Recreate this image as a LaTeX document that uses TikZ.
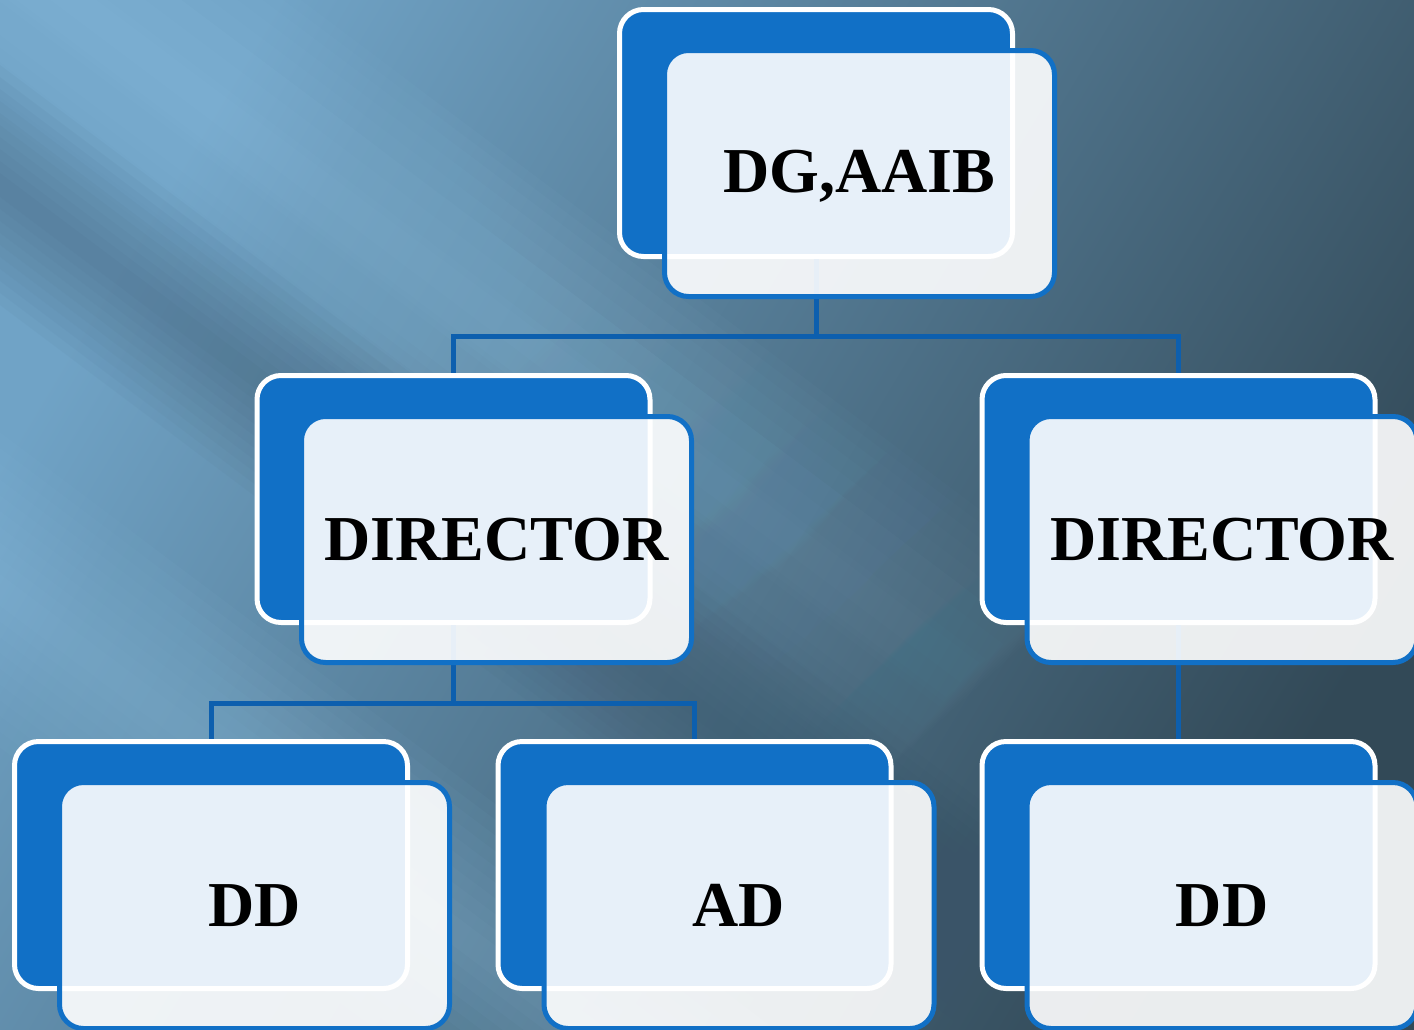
\documentclass[tikz,border=0pt]{standalone}
\usepackage{fontspec}
\setmainfont{Liberation Serif}
\usetikzlibrary{fadings}
\definecolor{boxblue}{HTML}{1170C6}
\definecolor{connblue}{HTML}{0D5FAE}
\definecolor{bgA}{HTML}{70A3C6}
\definecolor{bgB}{HTML}{55798F}
\definecolor{bgC}{HTML}{324957}
\definecolor{bandL}{HTML}{9ACBEA}
\definecolor{bandD}{HTML}{3A5468}
\pgfdeclarehorizontalshading{bandfadesh}{100bp}{color(0bp)=(transparent!0); color(37.5bp)=(transparent!0); color(62.5bp)=(transparent!100); color(100bp)=(transparent!100)}
\pgfdeclarefading{bandfade}{\pgfuseshading{bandfadesh}}
\begin{document}
\begin{tikzpicture}[x=1pt,y=-1pt,
  backbox/.style={rectangle, rounded corners=24pt, fill=boxblue, draw=white, line width=5pt,
    minimum width=393pt, minimum height=247pt, inner sep=0pt},
  frontbox/.style={rectangle, rounded corners=24pt, fill=white, fill opacity=0.9, draw=boxblue,
    draw opacity=1, line width=5pt, minimum width=390pt, minimum height=246pt, inner sep=0pt},
  lbl/.style={anchor=base, font=\fontsize{64}{70}\selectfont\bfseries, text=black, inner sep=0pt},
  conn/.style={draw=connblue, line width=5pt},
  lightband/.style={fill=bandL, opacity=0.04},
  darkband/.style={fill=bandD, opacity=0.045}]
\useasboundingbox (0,0) rectangle (1414,1029);
\clip (0,0) rectangle (1414,1029);
% background
\shade[top color=bgA, middle color=bgB, bottom color=bgC, shading angle=59] (0,0) rectangle (1414,1029);
% light band 1, fading out towards the lower right
\foreach \i in {1,...,10}{
  \pgfmathsetmacro\w{23*\i}
  \pgfmathsetmacro\a{0.36*\w}
  \pgfmathsetmacro\b{0.48*\w}
  \fill[lightband, path fading=bandfade, fading angle=-36.87]
    ({80-\w},-10) -- ({80+\w},-10) -- ({1600+\a},{1130-\b}) -- ({1600-\a},{1130+\b}) -- cycle;
}
% light band 2
\foreach \i in {1,...,10}
  \fill[lightband] ({-800-21*\i},-10) -- ({-800+21*\i},-10) -- ({-800+21*\i+1480},1100) -- ({-800-21*\i+1480},1100) -- cycle;
% dark band
\foreach \i in {1,...,10}
  \fill[darkband] ({-260-16*\i},-10) -- ({-260+16*\i},-10) -- ({-260+16*\i+1480},1100) -- ({-260-16*\i+1480},1100) -- cycle;
% back boxes
\node[backbox] (b1) at (816,133) {};
\node[backbox] (b2) at (453.5,499) {};
\node[backbox] (b3) at (1178.5,499) {};
\node[backbox] (b4) at (211,865) {};
\node[backbox] (b5) at (694.5,865) {};
\node[backbox] (b6) at (1178.5,865) {};
% connectors
\draw[conn] (b1.south) -- ++(0,77) -| (b2.north);
\draw[conn] (b1.south) -- ++(0,77) -| (b3.north);
\draw[conn] (b2.south) -- ++(0,78) -| (b4.north);
\draw[conn] (b2.south) -- ++(0,78) -| (b5.north);
\draw[conn] (b3.south) -- (b6.north);
% front boxes
\node[frontbox] (f1) at (859.5,173.5) {};
\node[frontbox] (f2) at (496.5,539.5) {};
\node[frontbox] (f3) at (1222,539.5) {};
\node[frontbox] (f4) at (254.5,905.5) {};
\node[frontbox] (f5) at (739,905.5) {};
\node[frontbox] (f6) at (1222,905.5) {};
% labels
\node[lbl] (t1) at ([yshift=-18.5pt]f1.center) {DG,AAIB};
\node[lbl] (t2) at ([yshift=-20.5pt]f2.center) {DIRECTOR};
\node[lbl] (t3) at ([yshift=-20.5pt]f3.center) {DIRECTOR};
\node[lbl] (t4) at ([yshift=-20.5pt]f4.center) {DD};
\node[lbl] (t5) at ([yshift=-20.5pt]f5.center) {AD};
\node[lbl] (t6) at ([yshift=-20.5pt]f6.center) {DD};
\end{tikzpicture}
\end{document}
